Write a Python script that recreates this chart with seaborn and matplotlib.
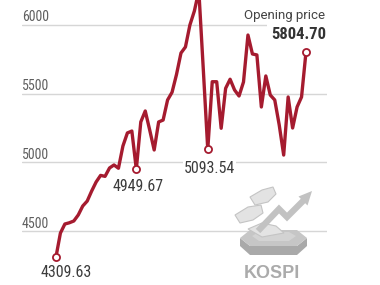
import matplotlib
matplotlib.use("Agg")
import matplotlib.pyplot as plt
import matplotlib.transforms as mtransforms
from matplotlib.patches import Polygon
import seaborn as sns
import pandas as pd

# ---- data ----
kospi = [4309.63, 4485, 4551, 4560, 4573, 4617, 4682, 4718, 4791, 4857,
         4905, 4898, 4959, 4981, 4957, 5119, 5214, 5228, 4949.67, 5294,
         5374, 5235, 5090, 5294, 5308, 5454, 5510, 5640, 5796, 5840,
         6000, 6102, 6250, 5676, 5093.54, 5587, 5587, 5248, 5539, 5605,
         5527, 5483, 5585, 5927, 5789, 5782, 5403, 5629, 5490, 5454,
         5272, 5053, 5476, 5250, 5403, 5476, 5804.70]
day = list(range(len(kospi)))
y_ticks = [4000, 4500, 5000, 5500, 6000]
y_tick_labels = ["4000", "4500", "5000", "5500", "6000"]
marked_days = [0, 18, 34]
last_label = "Opening price"
brand = "KOSPI"

df = pd.DataFrame({"day": day, "kospi": kospi})

sns.set_style("white")
plt.rcParams["font.family"] = ["Roboto Condensed", "DejaVu Sans"]

RED = "#a51b2f"
W, H = 380, 285
fig = plt.figure(figsize=(W / 100, H / 100), dpi=100)
ax = fig.add_axes([22 / W, 0, (327 - 22) / W, 1])

sns.lineplot(data=df, x="day", y="kospi", color=RED, lw=2.4, ax=ax, zorder=3)
mk = df.iloc[marked_days + [len(kospi) - 1]]
sns.scatterplot(data=mk, x="day", y="kospi", s=26, color="white",
                edgecolor=RED, linewidth=1.3, ax=ax, zorder=4)

ax.set_xlabel("")
ax.set_ylabel("")
ax.set_yticks(y_ticks)
ax.set_xticks([])
ax.set_xlim(-7.6, 60.7)
ax.set_ylim(4107, 6182)
ax.yaxis.grid(True, color="#d6d6d6", lw=1.0, zorder=0)
ax.set_axisbelow(True)
ax.tick_params(left=False, bottom=False, labelleft=False, labelbottom=False)
for s in ax.spines.values():
    s.set_visible(False)
ax.set_facecolor("none")

# y tick labels sit above their gridlines
trans = mtransforms.blended_transform_factory(ax.transAxes, ax.transData)
lab_off = mtransforms.offset_copy(trans, fig=fig, x=0, y=3.5, units="dots")
for v, lab in zip(y_ticks, y_tick_labels):
    ax.text(0, v, lab, transform=lab_off, ha="left", va="baseline", fontsize=10,
            color="#5f5f5f", clip_on=False)

# point annotations
offs = {0: (10, -8), 18: (1.5, -9.5), 34: (1.5, -12)}
for d in marked_days:
    v = kospi[d]
    ax.annotate(f"{v:.2f}", xy=(d, v), xytext=offs[d], textcoords="offset pixels",
                ha="center", va="top", fontsize=11.5, color="#3c3c3c", zorder=5,
                bbox=dict(boxstyle="square,pad=0.05", fc="white", ec="none"))

last = len(kospi) - 1
ax.annotate(f"{kospi[last]:.2f}", xy=(last, kospi[last]), xytext=(20, 13),
            textcoords="offset pixels", ha="right", va="baseline", fontsize=12,
            fontweight="bold", color="#333333", zorder=5,
            bbox=dict(boxstyle="square,pad=0.25", fc="white", ec="none"))
ax.annotate(last_label, xy=(last, kospi[last]), xytext=(19, 33),
            textcoords="offset pixels", ha="right", va="baseline", fontsize=9.5,
            color="#444444", family=["Roboto", "DejaVu Sans"], zorder=5)

# ---- decorative KOSPI icon ----
deco = fig.add_axes([0, 0, 1, 1])
deco.set_xlim(0, W)
deco.set_ylim(H, 0)
deco.axis("off")
deco.set_facecolor("none")

side = [(240, 238), (250, 246), (297, 246), (307, 238), (307, 246), (297, 255), (250, 255), (240, 246)]
top = [(240, 238), (250, 230), (297, 230), (307, 238), (297, 246), (250, 246)]
inner = [(252, 236), (259, 232), (289, 232), (296, 236), (289, 241), (259, 241)]
deco.add_patch(Polygon(side, closed=True, fc="#a9a9a9", ec="none"))
deco.add_patch(Polygon(top, closed=True, fc="#c6c6c6", ec="none"))
deco.add_patch(Polygon(inner, closed=True, fc="#d3d3d3", ec="none"))

sheet1 = [(250, 197), (262, 190), (273, 187), (276, 194), (268, 202), (255, 205)]
sheet2 = [(235, 215), (248, 207), (261, 205), (263, 213), (253, 220), (240, 223)]
sheet3 = [(248, 229), (262, 223), (276, 226), (284, 233), (262, 237)]
for sh in (sheet1, sheet2, sheet3):
    deco.add_patch(Polygon(sh, closed=True, fc="#e3e3e3", ec="#c4c4c4", lw=0.8))

arrow_x = [258, 279, 287, 304]
arrow_y = [231, 209, 217, 200]
deco.plot(arrow_x, arrow_y, color="#c2c2c2", lw=4.5, solid_joinstyle="miter",
          solid_capstyle="butt")
deco.add_patch(Polygon([(312, 191), (298.5, 196.5), (307.5, 205.5)], closed=True,
                       fc="#c2c2c2", ec="none"))

deco.text(271.5, 274, brand, ha="center", va="center", fontsize=13,
          fontweight="bold", color="#ababab", family=["Liberation Sans", "DejaVu Sans"])

fig.savefig("out.png", dpi=100)
